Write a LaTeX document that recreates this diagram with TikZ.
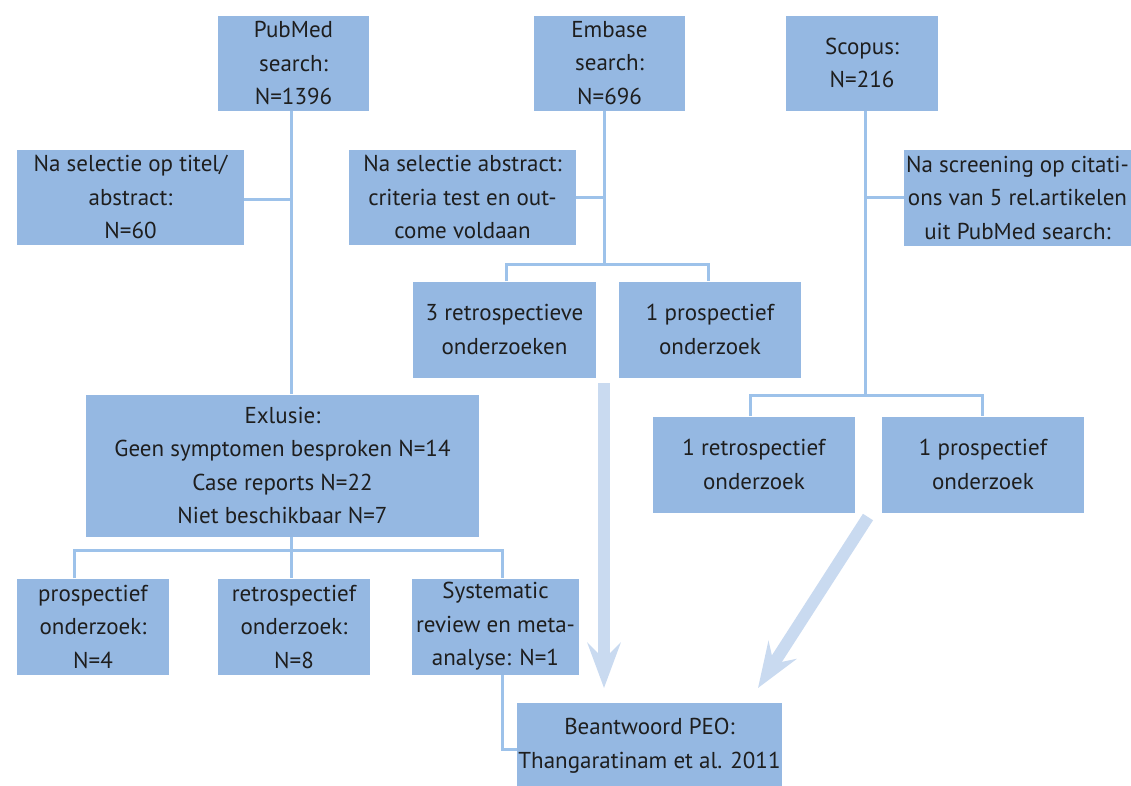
\documentclass[tikz,border=0pt]{standalone}
\usepackage{fontspec}
\setmainfont{PT Sans}
\usetikzlibrary{arrows.meta,calc}
\definecolor{boxfill}{HTML}{95B8E2}
\definecolor{linecol}{HTML}{9DC2EA}
\definecolor{arrcol}{HTML}{C9DAF0}
\definecolor{txt}{HTML}{1E1E1E}
\begin{document}
\begin{tikzpicture}[x=1pt,y=-1pt,
  box/.style={fill=boxfill, draw=none, inner sep=0pt, align=center, text=txt,
    font=\fontsize{23}{33.5}\selectfont},
  conn/.style={draw=linecol, line width=3pt},
  bigarrow/.style={draw=arrcol, line width=12pt,
    -{Stealth[length=45pt,width=33pt,inset=16pt]}}]
\useasboundingbox (0,0) rectangle (1131,785);
% top row
\node[box, minimum width=151pt, minimum height=95pt] (pub) at (293.5,63) {PubMed\\search:\\N=1396};
\node[box, minimum width=151pt, minimum height=95pt] (emb) at (609.5,63) {Embase\\search:\\N=696};
\node[box, minimum width=152pt, minimum height=95pt] (sco) at (862,63) {Scopus:\\N=216};
% second row
\node[box, minimum width=227pt, minimum height=95pt] (nat) at (130.5,197) {Na selectie op titel/\\abstract:\\N=60};
\node[box, minimum width=227pt, minimum height=95pt] (naa) at (462.5,197) {Na selectie abstract:\\criteria test en out-\\come voldaan};
\node[box, minimum width=227pt, minimum height=96pt] (nas) at (1017.5,197.5) {Na screening op citati-\\ons van 5 rel.artikelen\\uit PubMed search:};
% embase results
\node[box, minimum width=183pt, minimum height=96pt] (r3) at (504.5,329.5) {3 retrospectieve\\onderzoeken};
\node[box, minimum width=182pt, minimum height=96pt] (p1e) at (710,329.5) {1 prospectief\\onderzoek};
% exclusion
\node[box, minimum width=393pt, minimum height=142pt] (excl) at (282.5,465.5) {Exlusie:\\Geen symptomen besproken N=14\\Case reports N=22\\Niet beschikbaar N=7};
% scopus results
\node[box, minimum width=202pt, minimum height=96pt] (r1s) at (754,464.5) {1 retrospectief\\onderzoek};
\node[box, minimum width=202pt, minimum height=96pt] (p1s) at (983,464.5) {1 prospectief\\onderzoek};
% bottom row
\node[box, minimum width=152pt, minimum height=96pt] (pro) at (93,626.5) {prospectief\\onderzoek:\\N=4};
\node[box, minimum width=152pt, minimum height=96pt] (ret) at (294,626.5) {retrospectief\\onderzoek:\\N=8};
\node[box, minimum width=167pt, minimum height=96pt] (sys) at (495.5,626.5) {Systematic\\review en meta-\\analyse: N=1};
\node[box, minimum width=265pt, minimum height=86pt] (bea) at (649.5,745.5) {Beantwoord PEO:\\Thangaratinam et al. 2011};
% connector coordinates
\coordinate (pv) at (291,0);
\coordinate (ev) at (604,0);
\coordinate (sv) at (865,0);
\coordinate (eb) at (0,264);
\coordinate (sb) at (0,395);
\coordinate (xb) at (0,550);
\coordinate (pl) at (74,0);
\coordinate (sl) at (502,0);
\coordinate (r3x) at (506,0);
\coordinate (p1x) at (708,0);
\coordinate (r1x) at (750,0);
\coordinate (p2x) at (982,0);
\coordinate (by) at (0,749);
% node boxes were nudged for text; lines use fixed rows
\coordinate (ny) at (0,199);
\coordinate (ey) at (0,197);
% PubMed branch
\draw[conn] (pub.south -| pv) -- (excl.north -| pv);
\draw[conn] (nat.east |- ny) -- (pv |- ny);
\draw[conn] (excl.south -| pv) -- (ret.north -| pv);
\draw[conn] (pro.north -| pl) -- (pl |- xb) -- (sl |- xb) -- (sys.north -| sl);
\draw[conn] (sys.south -| sl) -- (sl |- by) -- (bea.west |- by);
% Embase branch
\draw[conn] (emb.south -| ev) -- (ev |- eb);
\draw[conn] (naa.east |- ey) -- (ev |- ey);
\draw[conn] (r3.north -| r3x) -- (r3x |- eb) -- (p1x |- eb) -- (p1e.north -| p1x);
% Scopus branch
\draw[conn] (sco.south -| sv) -- (sv |- sb);
\draw[conn] (nas.west |- ey) -- (sv |- ey);
\draw[conn] (r1s.north -| r1x) -- (r1x |- sb) -- (p2x |- sb) -- (p1s.north -| p2x);
% big arrows
\coordinate (a1s) at (604,383);
\coordinate (a1e) at (604,688);
\coordinate (a2s) at (868,517);
\coordinate (a2e) at (758,688);
\draw[bigarrow] (a1s) -- (a1e);
\draw[bigarrow] (a2s) -- (a2e);
\end{tikzpicture}
\end{document}
